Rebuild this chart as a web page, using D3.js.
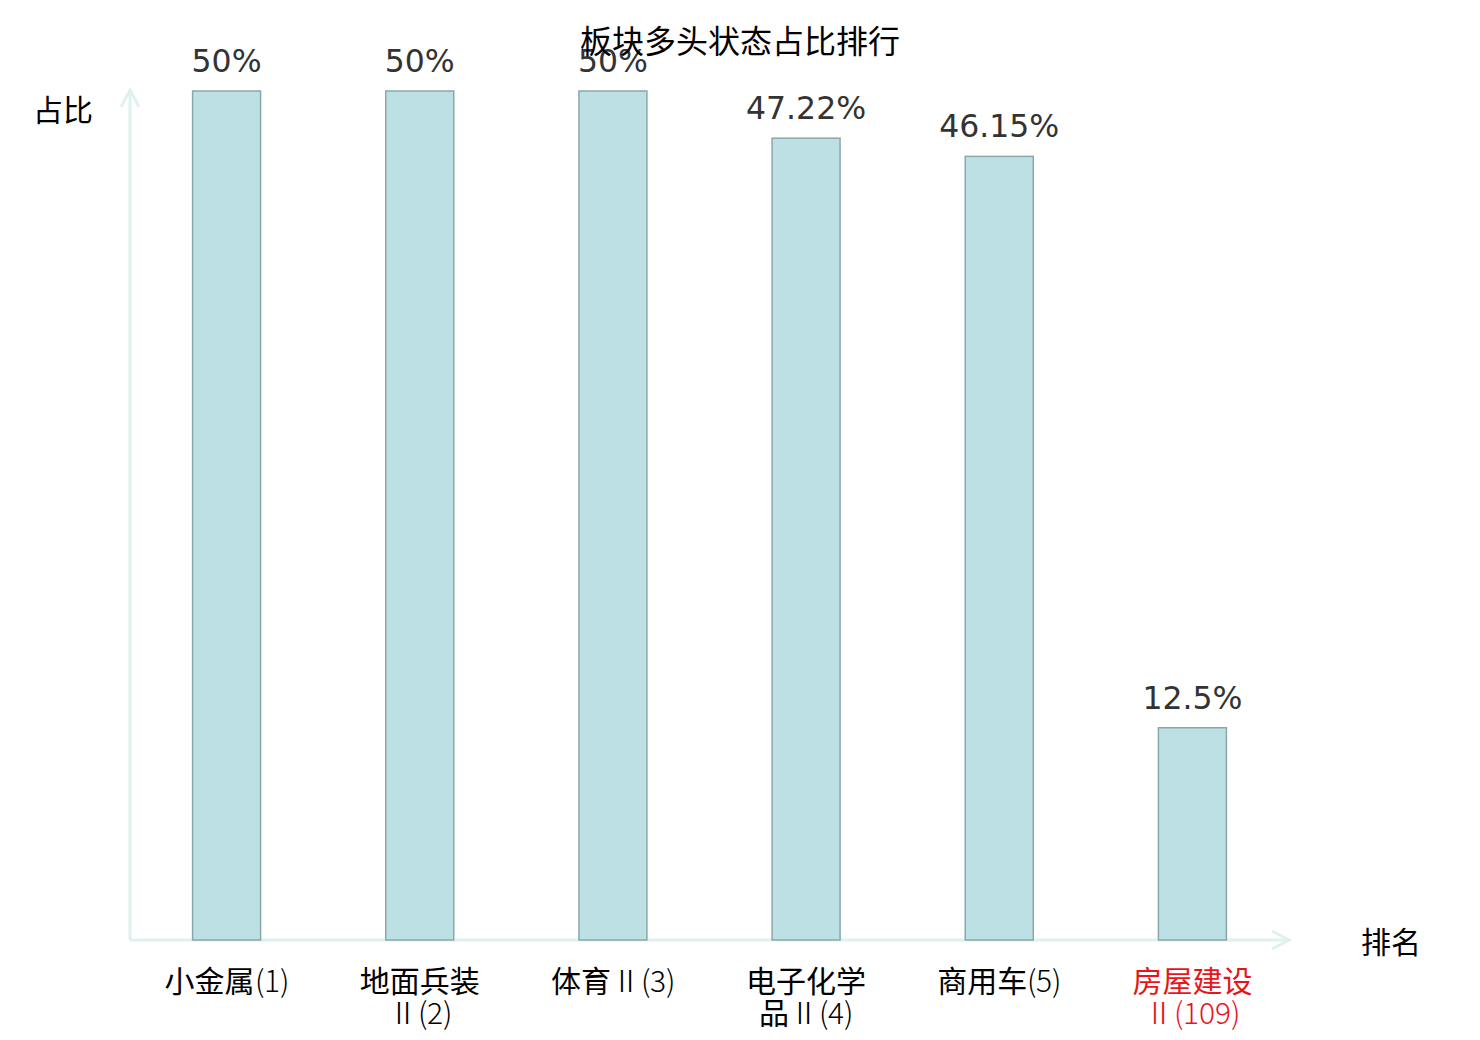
<!DOCTYPE html>
<html>
<head>
<meta charset="utf-8">
<script src="https://cdn.jsdelivr.net/npm/d3@7"></script>
<style>
    body { margin: 0; background: #fff; }
    text { font-family: "Noto Sans CJK SC", "DejaVu Sans", sans-serif; }
    /* thin latin glyphs for the category labels, CJK stays regular */
    @font-face {
        font-family: "LabelLatin";
        src: local("Noto Sans CJK SC Light"), local("NotoSansCJKsc-Light"), local("Noto Sans CJK SC DemiLight"), local("NotoSansCJKsc-DemiLight");
        unicode-range: U+0020-007E, U+2160-216F;
    }
</style>
</head>
<body>
<div id="chart"></div>
<script>
// chart data
const categories = ["小金属(1)", "地面兵装Ⅱ(2)", "体育Ⅱ(3)", "电子化学品Ⅱ(4)", "商用车(5)", "房屋建设Ⅱ(109)"];
const labelLines = [["小金属(1)"], ["地面兵装", "Ⅱ(2)"], ["体育Ⅱ(3)"], ["电子化学", "品Ⅱ(4)"], ["商用车(5)"], ["房屋建设", "Ⅱ(109)"]];
const values = [50, 50, 50, 47.22, 46.15, 12.5];
const highlighted = [false, false, false, false, false, true];

const width = 1480, height = 1040;
const margin = {top: 91, right: 191, bottom: 100, left: 130};
const axisColor = "#dff2ef";

const svg = d3.select("#chart").append("svg")
    .attr("width", width)
    .attr("height", height);

// scales
const x = d3.scaleBand()
    .domain(categories)
    .range([margin.left, width - margin.right])
    .paddingInner(0.648)
    .paddingOuter(0.324);

const y = d3.scaleLinear()
    .domain([0, d3.max(values)])
    .range([height - margin.bottom, margin.top]);

const x0 = margin.left, y0 = y(0);
const xEnd = width - margin.right;

// axes lines with arrow heads
const axes = svg.append("g")
    .attr("stroke", axisColor)
    .attr("stroke-width", 3)
    .attr("fill", "none");

axes.append("line").attr("x1", x0).attr("y1", y0).attr("x2", x0).attr("y2", 90);
axes.append("polyline").attr("points", `${x0 - 9},${107} ${x0},${90} ${x0 + 9},${107}`);
axes.append("line").attr("x1", x0).attr("y1", y0).attr("x2", xEnd).attr("y2", y0);
axes.append("polyline").attr("points", `${xEnd - 17},${y0 - 9} ${xEnd},${y0} ${xEnd - 17},${y0 + 9}`);

// bars
svg.selectAll(".bar")
    .data(values)
    .join("rect")
    .attr("class", "bar")
    .attr("x", (d, i) => x(categories[i]))
    .attr("y", d => y(d))
    .attr("width", x.bandwidth())
    .attr("height", d => y0 - y(d))
    .attr("fill", "#bce0e3")
    .attr("stroke", "#8ba8a9")
    .attr("stroke-width", 1.5);

// value labels
svg.selectAll(".value")
    .data(values)
    .join("text")
    .attr("class", "value")
    .attr("x", (d, i) => x(categories[i]) + x.bandwidth() / 2)
    .attr("y", d => y(d) - 19)
    .attr("text-anchor", "middle")
    .attr("fill", "#333")
    .style("font-family", "'DejaVu Sans', sans-serif")
    .attr("font-size", "31.5px")
    .text(d => d + "%");

// category labels
const cat = svg.selectAll(".cat")
    .data(labelLines)
    .join("text")
    .attr("class", "cat")
    .attr("x", (d, i) => x(categories[i]) + x.bandwidth() / 2)
    .attr("y", 992)
    .attr("text-anchor", "middle")
    .attr("font-size", "30px")
    .style("font-family", "LabelLatin, 'Noto Sans CJK SC', sans-serif")
    .attr("fill", (d, i) => highlighted[i] ? "#e8141a" : "#000");

cat.selectAll("tspan")
    .data(d => d)
    .join("tspan")
    .attr("x", function () { return d3.select(this.parentNode).attr("x"); })
    .attr("dy", (d, i) => i === 0 ? 0 : 32)
    .text(d => d);

// axis titles
svg.append("text")
    .attr("x", 63).attr("y", 121)
    .attr("text-anchor", "middle")
    .attr("font-size", "30px")
    .text("占比");

svg.append("text")
    .attr("x", 1391).attr("y", 953)
    .attr("text-anchor", "middle")
    .attr("font-size", "30px")
    .text("排名");

// title
svg.append("text")
    .attr("x", 740).attr("y", 53)
    .attr("text-anchor", "middle")
    .attr("font-size", "32px")
    .text("板块多头状态占比排行");
</script>
</body>
</html>
